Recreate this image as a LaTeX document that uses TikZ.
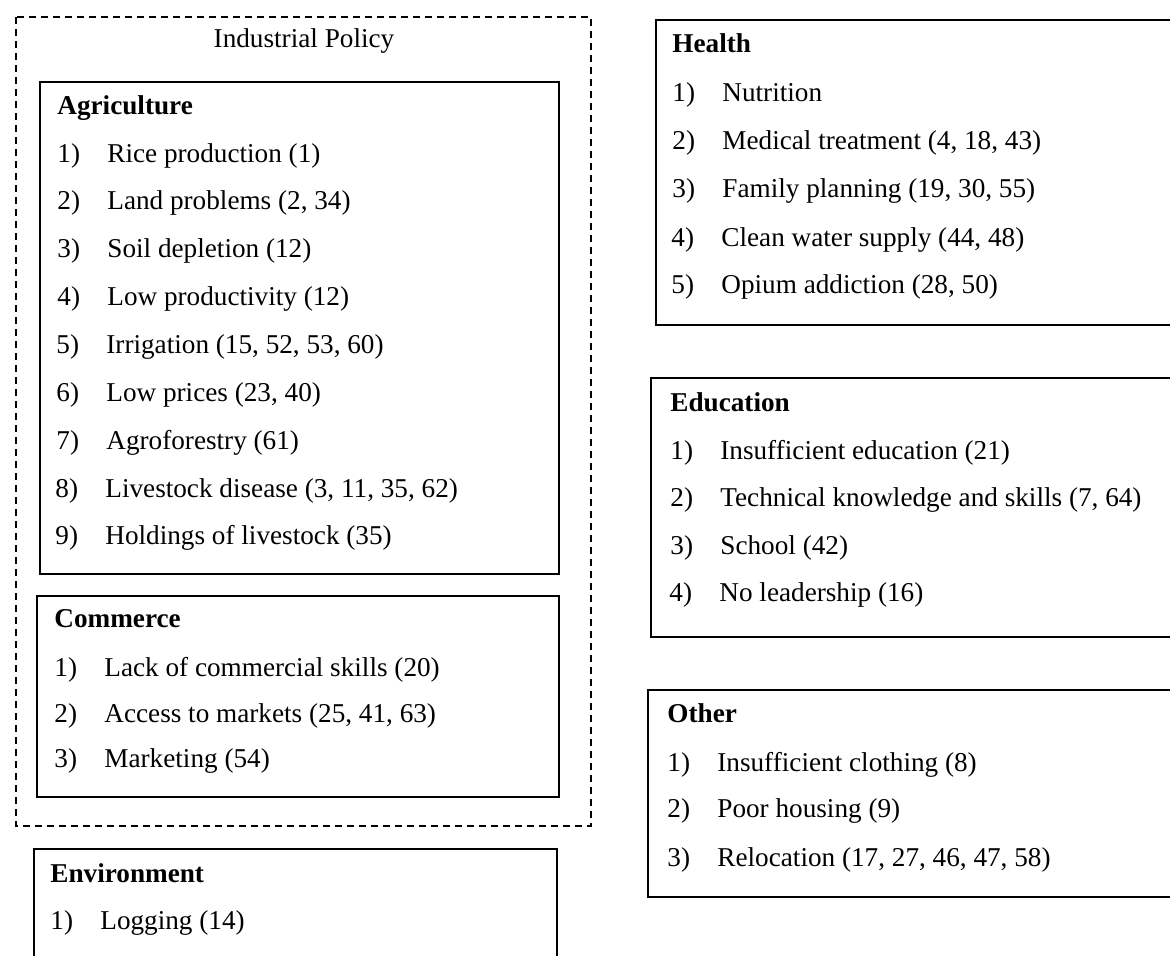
\documentclass[tikz,border=0pt]{standalone}
\usepackage{fontspec}
\setmainfont{Liberation Serif}
\tikzset{
	txt/.style={anchor=west, inner sep=0pt, text height=0.7em, text depth=0.22em, font=\fontsize{13.6pt}{16pt}\selectfont},
	head/.style={txt, font=\fontsize{13.6pt}{16pt}\selectfont\bfseries},
	box/.style={line width=1pt},
}
\newcommand{\itm}[2]{\makebox[25pt][l]{#1)}#2}

\begin{document}
\begin{tikzpicture}[x=0.5pt,y=-0.5pt]
		%%%%% START %%%%%
		\clip (0,0) rectangle (1170,955);
		
		% industrial policy group
		\draw[line width=1pt, dash pattern=on 3.5pt off 2.5pt] (16,17) rectangle (591,826);
		\node[txt, anchor=center] (indpol) at (304,43) {Industrial Policy};
		
		\draw[box] (40,82) rectangle (559,574);
		\node[head] (agri) at (57,110) {Agriculture};
		\node[txt] (agri1) at (57,158) {\itm{1}{Rice production (1)}};
		\node[txt] (agri2) at (57,205) {\itm{2}{Land problems (2, 34)}};
		\node[txt] (agri3) at (57,253) {\itm{3}{Soil depletion (12)}};
		\node[txt] (agri4) at (57,301) {\itm{4}{Low productivity (12)}};
		\node[txt] (agri5) at (56,349) {\itm{5}{Irrigation (15, 52, 53, 60)}};
		\node[txt] (agri6) at (56,397) {\itm{6}{Low prices (23, 40)}};
		\node[txt] (agri7) at (56,445) {\itm{7}{Agroforestry (61)}};
		\node[txt] (agri8) at (55,493) {\itm{8}{Livestock disease (3, 11, 35, 62)}};
		\node[txt] (agri9) at (55,540) {\itm{9}{Holdings of livestock (35)}};
		
		\draw[box] (37,596) rectangle (559,797);
		\node[head] (comm) at (54,623) {Commerce};
		\node[txt] (comm1) at (54,672) {\itm{1}{Lack of commercial skills (20)}};
		\node[txt] (comm2) at (54,718) {\itm{2}{Access to markets (25, 41, 63)}};
		\node[txt] (comm3) at (54,763) {\itm{3}{Marketing (54)}};
		
		% environment
		\draw[box] (34,849) rectangle (557,990);
		\node[head] (env) at (50,878) {Environment};
		\node[txt] (env1) at (50,925) {\itm{1}{Logging (14)}};
		
		% right column
		\draw[box] (656,20) rectangle (1200,325);
		\node[head] (health) at (672,48) {Health};
		\node[txt] (health1) at (672,97) {\itm{1}{Nutrition}};
		\node[txt] (health2) at (672,145) {\itm{2}{Medical treatment (4, 18, 43)}};
		\node[txt] (health3) at (672,193) {\itm{3}{Family planning (19, 30, 55)}};
		\node[txt] (health4) at (671,242) {\itm{4}{Clean water supply (44, 48)}};
		\node[txt] (health5) at (671,289) {\itm{5}{Opium addiction (28, 50)}};
		
		\draw[box] (651,378) rectangle (1200,637);
		\node[head] (edu) at (670,407) {Education};
		\node[txt] (edu1) at (670,455) {\itm{1}{Insufficient education (21)}};
		\node[txt] (edu2) at (670,502) {\itm{2}{Technical knowledge and skills (7, 64)}};
		\node[txt] (edu3) at (670,550) {\itm{3}{School (42)}};
		\node[txt] (edu4) at (669,597) {\itm{4}{No leadership (16)}};
		
		\draw[box] (648,690) rectangle (1200,897);
		\node[head] (other) at (667,718) {Other};
		\node[txt] (other1) at (667,767) {\itm{1}{Insufficient clothing (8)}};
		\node[txt] (other2) at (667,813) {\itm{2}{Poor housing (9)}};
		\node[txt] (other3) at (667,862) {\itm{3}{Relocation (17, 27, 46, 47, 58)}};
		
		%%%%% END %%%%%
	\end{tikzpicture}
\end{document}
